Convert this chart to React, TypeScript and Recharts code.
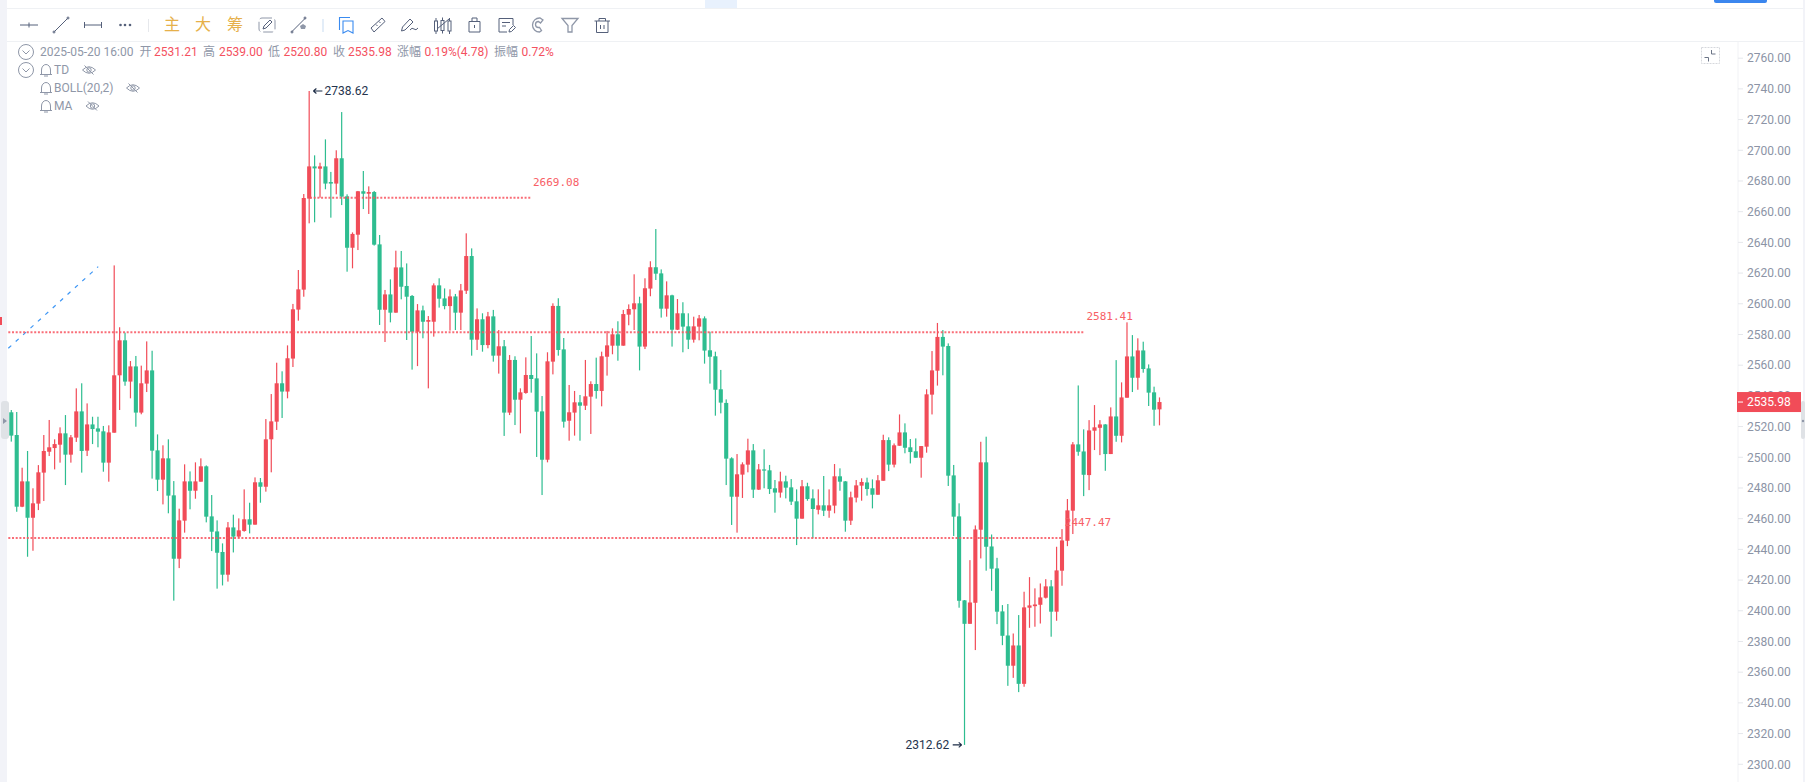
import React from "react";
import { ComposedChart, Bar, XAxis, YAxis, ReferenceLine, ReferenceDot } from "recharts";

const opens = [2529.3,2514.5,2467.8,2484.3,2460.6,2469.8,2490,2503.6,2506,2508.2,
2515.6,2501.7,2512.8,2529.9,2504.3,2521.4,2518.8,2516.9,2496.5,2516,
2553.4,2576.2,2549.3,2559.2,2529.1,2548,2556.6,2504.5,2485.4,2499.3,
2475.2,2433.9,2458.7,2484.3,2478.2,2484.1,2494.1,2461.5,2451.7,2438.3,
2423.5,2454.3,2448.3,2452,2459.6,2456.1,2483.7,2480.8,2511.7,2523.2,
2548.2,2542.8,2564.3,2596.2,2609.2,2668.5,2689.5,2688,2689.5,2679.3,
2678.3,2694.8,2670,2636.5,2645,2673.3,2671.7,2672.8,2638.7,2596.1,
2606.1,2594.2,2623.7,2611.6,2605.1,2581.8,2595.7,2588.3,2588.3,2612,
2603.5,2598.5,2604.8,2594.2,2608.5,2631.1,2576.6,2589.9,2573.1,2591.8,
2566.2,2572.3,2529.1,2563.4,2537.5,2541.9,2553.6,2551.4,2529.9,2498.4,
2562.3,2598.6,2570.3,2523.8,2529.1,2535.8,2533.6,2539.5,2547.7,2543.2,
2565.5,2572.7,2580.1,2572.7,2592.9,2596.4,2600.3,2572.1,2609.9,2623.8,
2619.8,2596.8,2605.5,2583.1,2593.8,2585.3,2576.6,2585.1,2590.5,2569.7,
2565.8,2544.3,2535.4,2499.3,2474.3,2488.7,2495.2,2504.5,2478.9,2492.1,
2491.5,2479.8,2477,2484.3,2480.4,2471.3,2460,2481.1,2473.2,2465.8,
2468.7,2465.2,2468.5,2487.6,2484.3,2458.7,2473.7,2481.5,2483.6,2479.8,
2475.6,2484.7,2511.2,2495.2,2507.5,2516.2,2506.5,2503.9,2499.7,2506.9,
2540.8,2556.4,2578.4,2572.5,2488.2,2461.5,2406.8,2391.5,2405.2,2452.8,
2496.7,2441.9,2427.6,2399.6,2383.9,2364.2,2377.4,2352.4,2402,2403,
2403.9,2408.5,2415.9,2399.4,2426.1,2445.6,2465.2,2508.4,2503.8,2488.4,
2517.3,2519.2,2521.4,2502.1,2526.6,2514,2538.8,2565.7,2551.8,2569.6,
2557.9,2542.3,2531.21];

const closes = [2514.1,2467.8,2484.3,2460.6,2470,2490.2,2504.1,2506.5,2508.6,2515.6,
2501.7,2513,2529.9,2504.1,2521.4,2518.4,2516.7,2496.5,2516.2,2553.4,
2576.2,2549.3,2559.2,2529.1,2548.2,2556.6,2504.3,2485.4,2499.3,2475,
2433.9,2458.9,2484.3,2478.2,2484.3,2494.1,2461.3,2451.5,2437.8,2423.5,
2454.3,2448.3,2452.4,2459.6,2456.1,2483.7,2480.8,2511.7,2523.4,2548.2,
2542.8,2564.5,2596.4,2609.4,2668.9,2689.5,2688.2,2689.5,2678.3,2678.3,
2694.8,2669.8,2636.5,2645.5,2673.3,2671.7,2672.8,2638.5,2596.1,2606.1,
2594.2,2623.7,2611.1,2604.6,2581.8,2595.7,2588.3,2589.4,2612,2603.3,
2598.5,2604.8,2594.2,2608.7,2631.1,2576.6,2589.9,2573.1,2591.8,2566.2,
2572.3,2529.1,2563.4,2537.5,2542.3,2553.6,2551,2529.7,2498.4,2562.5,
2598.6,2569.9,2523.2,2529.3,2535.8,2533.6,2539.7,2547.7,2543.2,2565.8,
2572.9,2580.1,2572.7,2593.3,2596.6,2600.3,2572.1,2610.1,2623.8,2619.6,
2596.8,2605.5,2583.1,2593.8,2585.1,2576.6,2585.3,2590.5,2569.5,2565.5,
2544,2535.6,2499.1,2474.3,2488.9,2495.4,2504.5,2478.9,2492.1,2491.3,
2479.3,2477,2484.3,2480.2,2471.1,2460,2481.1,2472.8,2466.3,2468.7,
2465.2,2468.7,2487.6,2484.1,2458.7,2473.9,2481.7,2483.9,2479.3,2475.6,
2485,2511.2,2495.2,2507.8,2516.2,2506.2,2503.4,2499.7,2507.3,2541,
2556.6,2578.4,2572.1,2488,2461.3,2406.5,2391.5,2405.4,2453,2496.7,
2441.7,2427.4,2399.4,2383.7,2364.2,2377.4,2352.4,2402.2,2403.5,2404.1,
2408.7,2415.9,2399.4,2426.3,2445.8,2465.4,2508.4,2503.6,2488.6,2517.5,
2519.5,2521.4,2502.1,2526.6,2514,2539,2565.7,2551.8,2569.6,2557.5,
2542.1,2531,2535.98];

const highs = [2530.8,2529.5,2493.2,2504.1,2479.8,2494.9,2514.5,2524.3,2511.7,2519.5,
2527.5,2514.5,2544.9,2548.2,2535.1,2526.4,2526.4,2520.4,2520.8,2625,
2584.7,2581.2,2562.7,2566,2559.7,2575.5,2569.4,2514.9,2507.8,2511.7,
2484.5,2466.5,2495.4,2490.8,2496.7,2499.3,2494.7,2475.4,2458.9,2443.9,
2457.8,2462.6,2460.2,2479.1,2470.4,2486.9,2486.5,2524.9,2541.2,2561.6,
2556,2572.9,2599.9,2622,2671.5,2738.62,2696.7,2691.9,2707.1,2685.9,
2700,2724.9,2671.3,2646.5,2673.5,2686.5,2676.5,2673.5,2644.8,2609,
2615.9,2634.6,2634.4,2626.3,2605.7,2599.8,2598.8,2592,2613.3,2616.6,
2610,2609.4,2606.4,2612.9,2645.9,2636.1,2597,2593.8,2594.7,2596,
2582.9,2576.4,2566.6,2565.8,2544.9,2565.1,2579,2567.7,2539.9,2568.4,
2600.3,2603.6,2577.7,2547.1,2543.2,2540.6,2563.4,2549.5,2564.9,2568.8,
2582.3,2584,2588.6,2596,2599.6,2619.2,2604.6,2616.6,2627.7,2648.7,
2622.4,2614.6,2605.9,2603.1,2601,2593.8,2591.6,2592.7,2591.8,2581.8,
2568.8,2556.9,2537.7,2500,2502.1,2496.7,2512.1,2508.6,2495.6,2505.2,
2495,2485.2,2490.6,2488,2485.8,2479.1,2485.2,2483.4,2479.1,2479.1,
2487.8,2479.1,2495.6,2492.8,2484.5,2477.6,2485.2,2486.3,2486.7,2485.6,
2488.4,2514.7,2513,2509,2527.9,2522.1,2511.9,2512.3,2507.3,2544.3,
2569.2,2587.5,2582.9,2574.2,2495,2470,2407,2433,2455.6,2510.1,
2513.4,2449.7,2434.5,2403.7,2404.4,2385.2,2397.2,2412.4,2421.9,2414.6,
2417.8,2420.6,2420,2441.7,2453.2,2472.8,2509.9,2546.8,2518.2,2524.2,
2534,2524.2,2521.6,2532.5,2563.3,2548.8,2587.9,2579.6,2577.5,2575.3,
2560.5,2546,2539];

const lows = [2510.2,2464.5,2467.5,2435.2,2439.1,2465.6,2471.5,2500.8,2492.1,2496.5,
2481.9,2496.5,2510,2490,2500.8,2508.6,2506.5,2490.6,2484.1,2516,
2530.8,2546.6,2538.4,2519.9,2528,2542.5,2486.1,2478,2469.3,2463.5,
2406.6,2427.8,2450.9,2466.1,2473,2484.1,2457.6,2438.9,2414.4,2416.5,
2419,2438,2447.2,2451.5,2450.4,2456.1,2470.4,2477.6,2490.2,2517.8,
2525.6,2538.4,2558.8,2589,2604.6,2652.4,2653.1,2669.1,2674.6,2656.1,
2671.3,2664.3,2620.9,2623.1,2635,2661.7,2658.5,2637.9,2586.2,2575.1,
2587.9,2594.2,2602.9,2576.4,2557.1,2559.4,2577.5,2544.9,2578.6,2597.5,
2596.4,2582.5,2582.9,2582.9,2606.4,2566.2,2569.9,2568.8,2571,2562.3,
2554.5,2513.9,2527.5,2521,2515.6,2541.4,2542.1,2500.2,2475.4,2496.7,
2554,2566.2,2519.3,2510.8,2514.1,2510.8,2530.8,2515.2,2538.2,2533.2,
2553.2,2567.1,2562.9,2572.7,2586,2582.9,2556.6,2570.5,2604.9,2615.5,
2591,2591.6,2572.1,2582.9,2568.4,2570.5,2574.7,2576.2,2561,2548,
2527.1,2528.6,2481.9,2455.9,2450.9,2473.5,2490.2,2473.5,2478.7,2479.8,
2476.1,2463.9,2473.7,2473.2,2468.9,2442.8,2460,2471.7,2447.2,2462.8,
2461.7,2460.6,2463.5,2478.2,2451.5,2455.9,2470.6,2471.7,2475,2466.7,
2475.6,2484.7,2491,2493.4,2507.5,2502.6,2496,2499.7,2486.7,2503,
2527.9,2546.7,2553.4,2481.3,2448.7,2402,2312.62,2391.5,2374.4,2434.1,
2426.1,2413,2391.3,2377.6,2351.1,2356.3,2347,2350.5,2388.9,2389.6,
2391.7,2408,2383.1,2393.5,2416.3,2442.1,2450,2501,2474.7,2478.6,
2504.7,2501.4,2491.2,2502.1,2510.1,2509.7,2538.8,2542.5,2544,2555.1,
2533.4,2520.5,2520.8];

const priceTicks = [2300,2320,2340,2360,2380,2400,2420,2440,2460,2480,2500,2520,2540,2560,2580,2600,2620,2640,2660,2680,2700,2720,2740,2760];
const levelHigh = 2669.08;
const levelMid = 2581.41;
const levelLow = 2447.47;
const peak = 2738.62;
const trough = 2312.62;
const lastPrice = 2535.98;
const ohlcReadout = [["开","2531.21"],["高","2539.00"],["低","2520.80"],["收","2535.98"],["涨幅","0.19%(4.78)"],["振幅","0.72%"]];
const indicators = ["TD","BOLL(20,2)","MA"];
const dateLabel = "2025-05-20 16:00";

const candles = opens.map((o, i) => ({ t: i, open: o, close: closes[i], high: highs[i], low: lows[i], range: [lows[i], highs[i]] }));

const RED = "#f14c58";
const GREEN = "#2ebd90";
const ROBOTO = "Roboto, sans-serif";
const CJK = "Roboto, 'Noto Sans CJK SC', sans-serif";
const Y_DOMAIN: [number, number] = [2288.45, 2771.19];
const X_DOMAIN: [number, number] = [-0.5, 318.87];

function Candle(props: any) {
  const { x, y, width, height, payload } = props;
  const p = payload;
  const span = p.high - p.low;
  const k = span > 0 ? height / span : 0;
  const yO = y + (p.high - p.open) * k;
  const yC = y + (p.high - p.close) * k;
  const top = Math.min(yO, yC);
  const bh = Math.max(Math.abs(yO - yC), 1);
  const color = p.close >= p.open ? RED : GREEN;
  const cx = x + width / 2;
  return (
    <g>
      <rect x={cx - 0.6} y={y} width={1.2} height={height} fill={color} />
      <rect x={cx - 2.05} y={top} width={4.1} height={bh} fill={color} />
    </g>
  );
}

const levelLabel = (text: string, dx: number, dy: number) => (props: any) => {
  const { viewBox } = props;
  const cx = viewBox.x + (viewBox.width || 0) / 2;
  const cy = viewBox.y + (viewBox.height || 0) / 2;
  return (
    <text x={cx + dx} y={cy + dy} fill="#f86066" fontSize={11} fontFamily="'DejaVu Sans Mono', monospace" dominantBaseline="central">
      {text}
    </text>
  );
};

const extremeLabel = (text: string, side: "left" | "right") => (props: any) => {
  const { viewBox } = props;
  const cx = viewBox.x + (viewBox.width || 0) / 2;
  const cy = viewBox.y + (viewBox.height || 0) / 2;
  const right = side === "right";
  const arrow = right
    ? `M${cx + 4.5} ${cy} h9 M${cx + 4.5} ${cy} l3 -2.5 M${cx + 4.5} ${cy} l3 2.5`
    : `M${cx - 2.5} ${cy} h-9 M${cx - 2.5} ${cy} l-3 -2.5 M${cx - 2.5} ${cy} l-3 2.5`;
  return (
    <g>
      <path d={arrow} stroke="#1d2c46" strokeWidth={1.1} fill="none" />
      <text x={right ? cx + 15.7 : cx - 15} y={cy} textAnchor={right ? "start" : "end"} fill="#25344d" fontSize={12} fontFamily={ROBOTO} dominantBaseline="central">
        {text}
      </text>
    </g>
  );
};

const priceTag = (props: any) => {
  const { viewBox } = props;
  const right = viewBox.x + viewBox.width;
  const cy = viewBox.y;
  return (
    <g>
      <rect x={right - 1} y={cy - 10} width={64} height={20} fill={RED} />
      <rect x={right} y={cy - 0.5} width={5} height={1} fill="#fff" />
      <text x={right + 9} y={cy} fill="#fff" fontSize={12} fontFamily={ROBOTO} dominantBaseline="central">
        {lastPrice.toFixed(2)}
      </text>
    </g>
  );
};

function T({ x, y, color, size = 12, children, family = CJK }: any) {
  return (
    <span style={{ position: "absolute", left: x, top: y - 8, lineHeight: "16px", height: 16, fontSize: size, color, fontFamily: family, whiteSpace: "nowrap" }}>
      {children}
    </span>
  );
}

const ICON = "#55607a";
const GRAYI = "#8f97a8";

function Bell({ x, y }: any) {
  return (
    <g transform={`translate(${x},${y})`} fill="none" stroke={GRAYI} strokeWidth={1}>
      <path d="M-6 4.5 h12 M-4.5 4.5 v-4.5 a4.5 5.5 0 0 1 9 0 v4.5 M-2 6 h4" />
    </g>
  );
}
function EyeOff({ x, y }: any) {
  return (
    <g transform={`translate(${x},${y})`} fill="none" stroke={GRAYI} strokeWidth={1}>
      <path d="M-6.5 0 Q0 -6.5 6.5 0 Q0 6.5 -6.5 0 Z" />
      <circle r={2.2} />
      <path d="M-4.5 -4.5 L4.5 4.5" />
    </g>
  );
}
function Chevron({ x, y }: any) {
  return (
    <g transform={`translate(${x},${y})`} fill="none" stroke={GRAYI} strokeWidth={1}>
      <circle r={7.5} />
      <path d="M-3.5 -1.5 L0 2 L3.5 -1.5" />
    </g>
  );
}

function Chrome() {
  return (
    <svg width={1805} height={782} style={{ position: "absolute", left: 0, top: 0, pointerEvents: "none" }}>
      <rect x={705} y={0} width={32} height={8} fill="#e8f1fd" />
      <rect x={7} y={8} width={1796} height={1} fill="#eff1f4" />
      <rect x={7} y={41} width={1796} height={1} fill="#eff1f4" />
      <rect x={0} y={0} width={7} height={782} fill="#f2f3f8" />
      <rect x={1803} y={0} width={2} height={782} fill="#f2f3f8" />
      <path d="M1714 0 h53 v1 a2 2 0 0 1 -2 2 h-49 a2 2 0 0 1 -2 -2 z" fill="#3b86ee" />
      <rect x={0} y={317} width={2} height={8} fill={RED} />
      <rect x={1} y={401} width={8} height={38} rx={3} fill="#dfe2e6" />
      <path d="M3 418 L3 424 L7 421 Z" fill="#8f97a8" />
      <rect x={1801} y={401} width={4} height={38} rx={2} fill="#dfe2e6" />
      <circle cx={1803} cy={421} r={1.2} fill="#8f97a8" />

      <g fill="none" stroke={ICON} strokeWidth={1}>
        <path d="M20 25 h18 M29 22.5 v5" />
        <path d="M54.5 31.5 L67.5 18.5" /><circle cx={54} cy={32} r={1} /><circle cx={68} cy={18} r={1} />
        <path d="M84.5 22 v6 M84.5 25 h17 M101.5 22 v6" />
      </g>
      <g fill={ICON}><circle cx={120.5} cy={25} r={1.3} /><circle cx={125} cy={25} r={1.3} /><circle cx={130} cy={25} r={1.3} /></g>
      <rect x={148} y={19} width={1} height={13} fill="#e6e8ec" />
      <g fill="none" stroke={ICON} strokeWidth={1}>
        <path d="M262 18 h10 a3 3 0 0 1 3 3 v8 a3 3 0 0 1 -3 3 h-10 a3 3 0 0 1 -3 -3 v-8 a3 3 0 0 1 3 -3 z" strokeDasharray="10 3" stroke={GRAYI} />
        <path d="M263 29 l1 -3 l6 -6 l2 2 l-6 6 z" />
        <path d="M292 31.5 L305 18.5" /><circle cx={292} cy={32} r={1} /><circle cx={305} cy={18} r={1} />
      </g>
      <path d="M300 26 l3 -2 l3 2 l-1 3 l-4 0 z" fill={GRAYI} />
      <rect x={322} y={19} width={2} height={13} fill="#e3edf8" />
      <g fill="none" stroke="#3a8bf0" strokeWidth={1.1}>
        <path d="M339.5 30 V17.5 H350" />
        <path d="M343 21 H353 V33 L348 30.5 L343 33 Z" />
      </g>
      <g fill="none" stroke={ICON} strokeWidth={1}>
        <path d="M371 28 L382 18 L385 21.5 L374 32 Z M376 24.5 l1.5 1.5 M379 21.5 l1.5 1.5" />
        <path d="M401.5 31 L402.5 27 L410 19 L413 22 L405 30 Z M410 30 q2 -3 4 -1 t4 -1" />
        <rect x={434.5} y={21} width={3} height={10} /><path d="M436 18 v3 M436 31 v3" />
        <rect x={441} y={20.5} width={3} height={10} /><path d="M442.5 17.5 v3 M442.5 30.5 v3" />
        <rect x={448} y={21} width={3} height={10} /><path d="M449.5 18 v3 M449.5 31 v3" />
        <path d="M437 29 L449 19" />
        <path d="M469 21.5 H480 V32 H469 Z M472 21.5 V18 H477 V21.5 M474.5 25 v3" />
        <path d="M499 32 V18.5 H513 V25 M499 32 H507 M502 22.5 h8 M502 26 h4" />
        <path d="M509 32 l.5 -2.5 l4 -4 l2 2 l-4 4 z" />
      </g>
      <g fill="none" stroke={GRAYI} strokeWidth={1.3}>
        <path d="M543 20 l-3 -2 a7 7 0 0 0 -7.5 7 a7 7 0 0 0 7 7 l2 -1.5 l-2 -3 h-1 a3 3 0 0 1 0 -6 l2 1.5 z" />
        <path d="M562 18.5 H578 L572 25.5 V32 H568 V25.5 Z" />
      </g>
      <g fill="none" stroke={ICON} strokeWidth={1}>
        <path d="M594.5 21 H610 M599 21 V18.5 H605.5 V21 M596.5 21 V32.5 H608 V21 M600.5 25 v4 M604 25 v4" />
      </g>

      <Chevron x={26} y={52} />
      <Chevron x={26} y={70} />
      <Bell x={46} y={70} /><EyeOff x={89} y={70} />
      <Bell x={46} y={88} /><EyeOff x={133} y={88} />
      <Bell x={46} y={106} /><EyeOff x={92.5} y={106} />

      <rect x={1701.5} y={47.5} width={18} height={16} fill="none" stroke="#d6d8dd" strokeDasharray="2 1" />
      <path d="M1711.5 50 v4 h4 M1704.5 57.5 h4 v4" fill="none" stroke="#6c7587" strokeWidth={1} />
    </svg>
  );
}

const readoutX = [[139.5, 154], [203, 219], [268, 283.5], [333, 348], [397, 424.5], [494, 521.5]];

function Header() {
  const GRAY = "#8f97a8";
  const PINK = "#f4515f";
  const GOLD = "#e6b04a";
  return (
    <>
      <T x={172 - 8} y={25} color={GOLD} size={16}>主</T>
      <T x={203 - 8} y={25} color={GOLD} size={16}>大</T>
      <T x={235 - 8} y={25} color={GOLD} size={16}>筹</T>
      <T x={40} y={52} color={GRAY}>{dateLabel}</T>
      {ohlcReadout.map(([k, v], i) => (
        <React.Fragment key={k}>
          <T x={readoutX[i][0]} y={52} color={GRAY}>{k}</T>
          <T x={readoutX[i][1]} y={52} color={PINK}>{v}</T>
        </React.Fragment>
      ))}
      {indicators.map((name, i) => (
        <T key={name} x={54} y={70 + i * 18} color={GRAY}>{name}</T>
      ))}
    </>
  );
}

const LEVEL = { stroke: "#f8545f", strokeWidth: 2, strokeDasharray: "2 1.7", strokeOpacity: 0.85 };

export default function App() {
  return (
    <div style={{ position: "fixed", left: 0, top: 0, width: 1805, height: 782, overflow: "hidden", background: "#fff" }}>
      <ComposedChart
        width={1805}
        height={782}
        data={candles}
        margin={{ top: 41, right: 7, bottom: 0, left: 8.3 }}
        style={{ position: "absolute", left: 0, top: 0 }}
      >
        <XAxis type="number" dataKey="t" domain={X_DOMAIN} hide allowDataOverflow />
        <YAxis
          orientation="right"
          width={60}
          domain={Y_DOMAIN}
          allowDataOverflow
          ticks={priceTicks}
          interval={0}
          tickFormatter={(v: number) => v.toFixed(2)}
          tick={{ fill: "#8c94a6", fontSize: 12, fontFamily: ROBOTO }}
          tickSize={5}
          tickMargin={4}
          axisLine={{ stroke: "#f1f2f5" }}
          tickLine={{ stroke: "#e6e8ec" }}
        />
        <ReferenceLine segment={[{ x: -0.5, y: 2571 }, { x: 16.1, y: 2624.2 }]} stroke="#3d96f5" strokeWidth={1.2} strokeDasharray="4 6" />
        <ReferenceLine segment={[{ x: 55.2, y: levelHigh }, { x: 96, y: levelHigh }]} {...LEVEL} />
        <ReferenceLine segment={[{ x: -0.5, y: levelMid }, { x: 198.2, y: levelMid }]} {...LEVEL} />
        <ReferenceLine segment={[{ x: -0.5, y: levelLow }, { x: 194.2, y: levelLow }]} {...LEVEL} />
        <ReferenceDot x={96} y={levelHigh} r={0} fill="none" stroke="none" label={levelLabel(levelHigh.toFixed(2), 2, -15)} />
        <ReferenceDot x={198.2} y={levelMid} r={0} fill="none" stroke="none" label={levelLabel(levelMid.toFixed(2), 2, -16)} />
        <ReferenceDot x={194.2} y={levelLow} r={0} fill="none" stroke="none" label={levelLabel(levelLow.toFixed(2), 2, -15)} />
        <Bar dataKey="range" barSize={4} isAnimationActive={false} shape={Candle} />
        <ReferenceDot x={55} y={peak} r={0} fill="none" stroke="none" label={extremeLabel(peak.toFixed(2), "right")} />
        <ReferenceDot x={176} y={trough} r={0} fill="none" stroke="none" label={extremeLabel(trough.toFixed(2), "left")} />
      </ComposedChart>
      <ComposedChart
        width={1805}
        height={782}
        data={candles}
        margin={{ top: 41, right: 67, bottom: 0, left: 8.3 }}
        style={{ position: "absolute", left: 0, top: 0, pointerEvents: "none" }}
      >
        <XAxis type="number" dataKey="t" domain={X_DOMAIN} hide allowDataOverflow />
        <YAxis orientation="right" hide domain={Y_DOMAIN} allowDataOverflow />
        <ReferenceLine y={lastPrice} stroke="none" label={priceTag} />
      </ComposedChart>
      <Chrome />
      <Header />
    </div>
  );
}
